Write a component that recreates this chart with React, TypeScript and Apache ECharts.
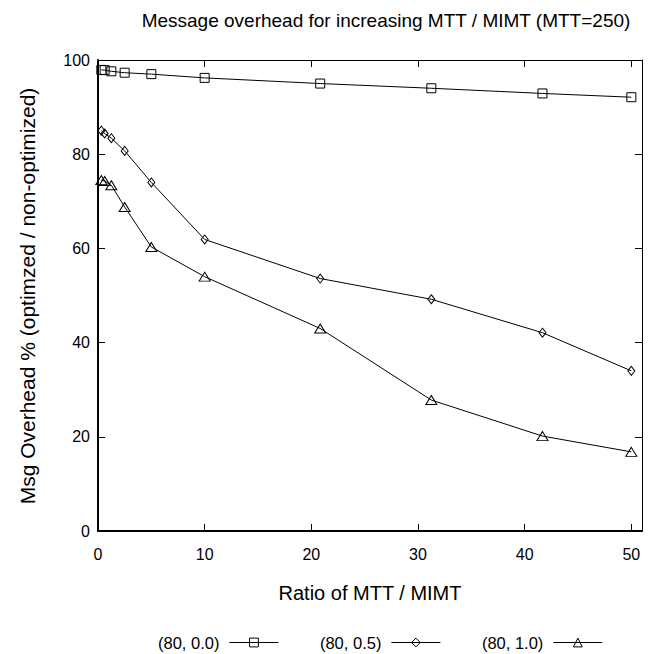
import React, { useEffect, useRef } from "react";
import * as echarts from "echarts";

const titleText = "Message overhead for increasing MTT / MIMT (MTT=250)";
const xAxisName = "Ratio of MTT / MIMT";
const yAxisName = "Msg Overhead % (optimzed / non-optimized)";

const xValues = [0.3125, 0.625, 1.25, 2.5, 5, 10, 20.83, 31.25, 41.67, 50];
const seriesNames = ["(80, 0.0)", "(80, 0.5)", "(80, 1.0)"];
const y00 = [97.9, 97.85, 97.6, 97.3, 97.0, 96.2, 95.0, 94.0, 92.9, 92.1];
const y05 = [85.0, 84.4, 83.4, 80.7, 74.0, 61.9, 53.6, 49.2, 42.1, 34.0];
const y10 = [74.5, 74.3, 73.4, 68.8, 60.3, 54.0, 43.0, 27.8, 20.15, 16.8];

const xTickValues = [0, 10, 20, 30, 40, 50];

const FONT = "'Liberation Sans', Arial, Helvetica, sans-serif";

export default function App() {
  const ref = useRef<HTMLDivElement | null>(null);

  useEffect(() => {
    if (!ref.current) return;
    const chart = echarts.init(ref.current, undefined, { renderer: "svg" });

    const mk = (ys: number[]) => xValues.map((x, i) => [x, ys[i]]);
    const symbols = [
      { symbol: "rect", size: [9, 9] },
      { symbol: "diamond", size: [7, 9] },
      { symbol: "triangle", size: [11, 9] },
    ];
    const allY = [y00, y05, y10];

    const series = seriesNames.map((name, i) => ({
      name,
      type: "line",
      data: mk(allY[i]),
      symbol: symbols[i].symbol,
      symbolSize: symbols[i].size,
      showAllSymbol: true,
      lineStyle: { color: "#000", width: 1 },
      itemStyle: { color: "rgba(0,0,0,0)", borderColor: "#000", borderWidth: 1 },
      emphasis: { disabled: true },
    }));

    const tickLabel = {
      color: "#000",
      fontSize: 16,
      fontFamily: FONT,
    };

    chart.setOption({
      animation: false,
      backgroundColor: "#fff",
      grid: { left: 98, top: 60, width: 544, height: 471, containLabel: false },
      xAxis: [
        {
          type: "value",
          min: 0,
          max: 51,
          interval: 10,
          position: "bottom",
          axisLine: { show: true, onZero: false, lineStyle: { color: "#000", width: 2 } },
          axisTick: { show: true, inside: true, length: 7, lineStyle: { color: "#000", width: 1 } },
          axisLabel: {
            ...tickLabel,
            margin: 15,
            showMaxLabel: false,
            formatter: (v: number) => (xTickValues.includes(v) ? String(v) : ""),
          },
          splitLine: { show: false },
        },
        {
          type: "value",
          min: 0,
          max: 51,
          interval: 10,
          position: "top",
          axisLine: { show: true, onZero: false, lineStyle: { color: "#000", width: 1 } },
          axisTick: { show: true, inside: true, length: 7, lineStyle: { color: "#000", width: 1 } },
          axisLabel: { show: false },
          splitLine: { show: false },
        },
      ],
      yAxis: [
        {
          type: "value",
          min: 0,
          max: 100,
          interval: 20,
          position: "left",
          axisLine: { show: true, onZero: false, lineStyle: { color: "#000", width: 2 } },
          axisTick: { show: true, inside: true, length: 7, lineStyle: { color: "#000", width: 1 } },
          axisLabel: { ...tickLabel, margin: 8 },
          splitLine: { show: false },
        },
        {
          type: "value",
          min: 0,
          max: 100,
          interval: 20,
          position: "right",
          axisLine: { show: true, onZero: false, lineStyle: { color: "#000", width: 1 } },
          axisTick: { show: true, inside: true, length: 7, lineStyle: { color: "#000", width: 1 } },
          axisLabel: { show: false },
          splitLine: { show: false },
        },
      ],
      legend: {
        data: seriesNames,
        left: 158,
        top: 634,
        padding: 0,
        align: "right",
        itemWidth: 49,
        itemHeight: 11,
        itemGap: 41,
        selectedMode: false,
        lineStyle: { color: "#000", width: 1 },
        itemStyle: { color: "rgba(0,0,0,0)", borderColor: "#000", borderWidth: 1 },
        textStyle: { color: "#000", fontSize: 16.5, fontFamily: FONT, padding: [0, 5, 0, 0] },
      },
      graphic: [
        {
          type: "text",
          x: 386,
          y: 20,
          style: {
            text: titleText,
            fill: "#000",
            font: `19px ${FONT}`,
            textAlign: "center",
            textVerticalAlign: "middle",
          },
        },
        {
          type: "text",
          x: 370,
          y: 593,
          style: {
            text: xAxisName,
            fill: "#000",
            font: `20px ${FONT}`,
            textAlign: "center",
            textVerticalAlign: "middle",
          },
        },
        {
          type: "text",
          x: 27,
          y: 296,
          rotation: Math.PI / 2,
          style: {
            text: yAxisName,
            fill: "#000",
            font: `21px ${FONT}`,
            textAlign: "center",
            textVerticalAlign: "middle",
          },
        },
      ],
      series,
    });

    return () => {
      chart.dispose();
    };
  }, []);

  return (
    <div
      ref={ref}
      style={{ position: "fixed", left: 0, top: 0, width: 655, height: 654, background: "#fff" }}
    />
  );
}
